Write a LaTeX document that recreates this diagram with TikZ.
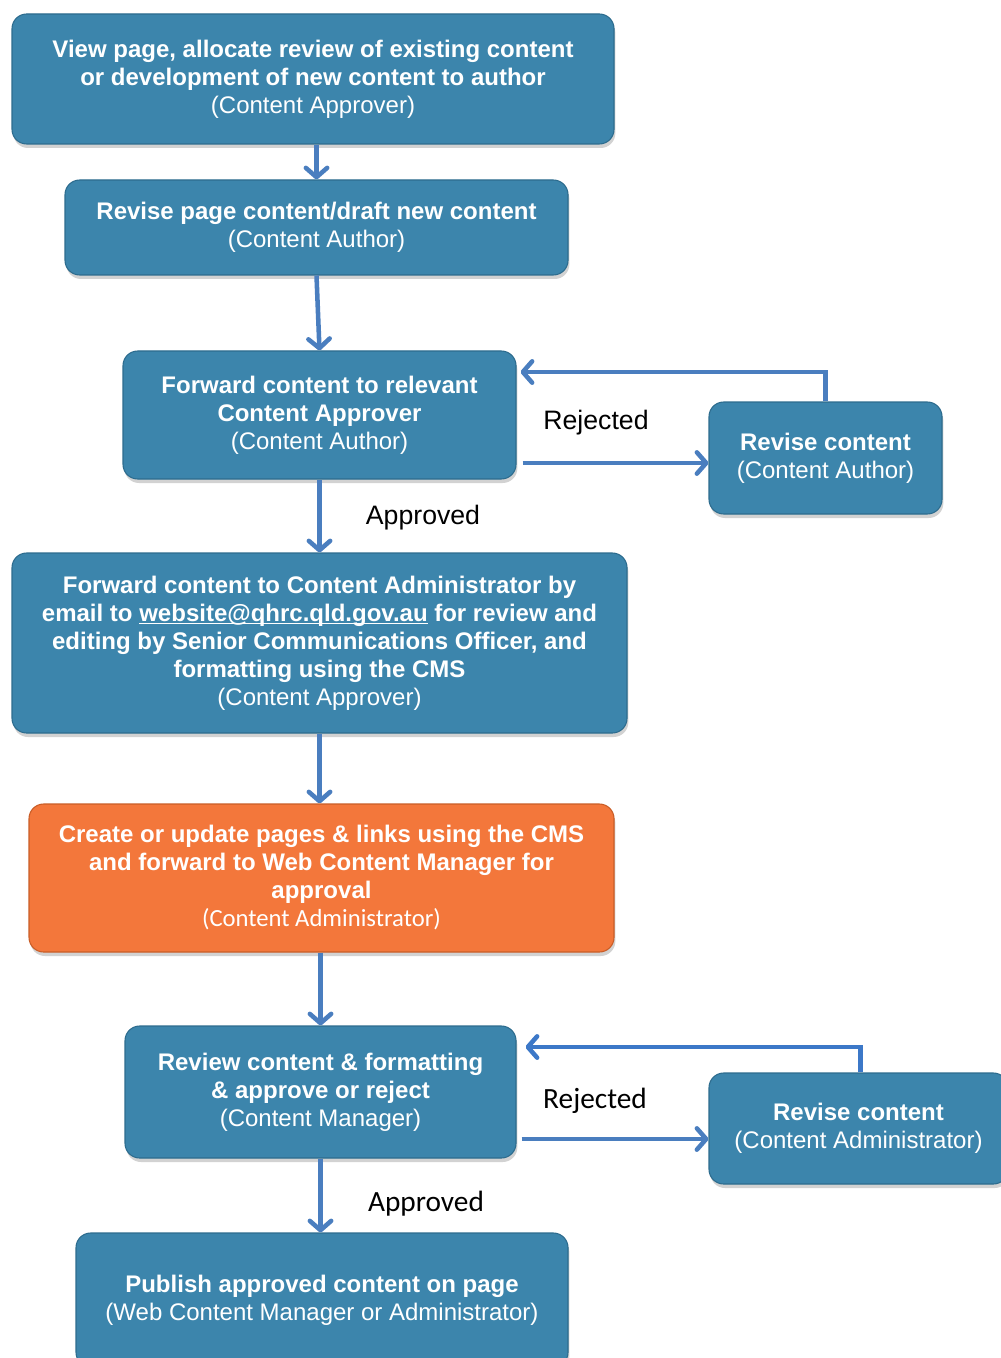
\documentclass[tikz,border=0pt]{standalone}
\usepackage{fontspec}
\setmainfont{Liberation Sans}
\newfontfamily\calib{Carlito}
\usetikzlibrary{arrows.meta,shadows,calc}
\definecolor{boxblue}{HTML}{3C85AC}
\definecolor{boxedge}{HTML}{2D6C8E}
\definecolor{boxorange}{HTML}{F3773B}
\definecolor{orangeedge}{HTML}{C95D27}
\definecolor{arrowblue}{HTML}{4A7EBF}
\definecolor{fbblue}{HTML}{3C78C8}
\newcommand\ulink[1]{\setbox0\hbox{#1}\rlap{\rule[-2.4pt]{\wd0}{1.1pt}}\box0\relax}
\tikzset{
  stepbox/.style={rectangle, rounded corners=11pt, fill=boxblue, draw=boxedge, line width=0.8pt,
    text=white, align=center, inner sep=0pt,
    font=\fontsize{18}{21}\selectfont,
    drop shadow={opacity=0.35, shadow xshift=1pt, shadow yshift=-3pt}},
  orangebox/.style={stepbox, fill=boxorange, draw=orangeedge},
  flow/.style={draw=arrowblue, line width=3.4pt,
    -{Straight Barb[length=7pt,width=16pt,line cap=round,line join=round]}},
  fbflow/.style={flow, draw=fbblue},
  lbl/.style={font=\fontsize{20}{24}\selectfont, text=black, inner sep=0pt},
  lblc/.style={font=\calib\fontsize{22}{26}\selectfont, text=black, inner sep=0pt}
}
\begin{document}
\begin{tikzpicture}[x=0.75pt,y=-0.75pt]
\useasboundingbox[fill=white] (0,0) rectangle (1000,1358);

\node[stepbox, minimum width=451.5pt, minimum height=97.5pt] (b1) at (313,79)
  {\textbf{View page, allocate review of existing content}\\
   \textbf{or development of new content to author}\\
   (Content Approver)};
\node[stepbox, minimum width=377.25pt, minimum height=71.25pt] (b2) at (316.5,227.5)
  {\textbf{Revise page content/draft new content}\\(Content Author)};
\node[stepbox, minimum width=294.75pt, minimum height=96pt] (b3) at (319.5,415)
  {\textbf{Forward content to relevant}\\\textbf{Content Approver}\\(Content Author)};
\node[stepbox, minimum width=174.75pt, minimum height=84pt] (r1) at (825.5,458)
  {\textbf{Revise content}\\(Content Author)};
\node[stepbox, minimum width=461.25pt, minimum height=135pt] (b4) at (319.5,643)
  {\textbf{Forward content to Content Administrator by}\\
   \textbf{email to \ulink{website@qhrc.qld.gov.au} for review and}\\
   \textbf{editing by Senior Communications Officer, and}\\
   \textbf{formatting using the CMS}\\
   (Content Approver)};
\node[orangebox, minimum width=438.75pt, minimum height=111pt] (b5) at (321.5,878)
  {\textbf{Create or update pages \& links using the CMS}\\
   \textbf{and forward to Web Content Manager for}\\
   \textbf{approval}\\
   {\calib\fontsize{18.5}{21}\selectfont(Content Administrator)}};
\node[stepbox, minimum width=293.25pt, minimum height=99pt] (b6) at (320.5,1092)
  {\textbf{Review content \& formatting}\\\textbf{\& approve or reject}\\(Content Manager)};
\node[stepbox, minimum width=224.25pt, minimum height=83.25pt] (r2) at (858.5,1128.5)
  {\textbf{Revise content}\\(Content Administrator)};
\node[stepbox, minimum width=369pt, minimum height=100.5pt] (b7) at (322,1300)
  {\textbf{Publish approved content on page}\\(Web Content Manager or Administrator)};

\node[lbl] (rej1) at (596,423) {Rejected};
\node[lbl] (app1) at (423,518) {Approved};
\node[lblc] (rej2) at (595,1101) {Rejected};
\node[lblc] (app2) at (426,1204) {Approved};

\draw[flow] (b1.south -| b2.north) -- (b2.north);
\draw[flow] (b2.south) -- (b3.north);
\draw[flow] (b3.south) -- (b4.north);
\draw[flow] (b4.south) -- (b4.south |- b5.north);
\draw[flow] (b5.south -| b6.north) -- (b6.north);
\draw[flow] (b6.south) -- (b6.south |- b7.north);

\coordinate (p1) at ([shift={(6,48)}]b3.east);
\draw[flow] (p1) -- (p1 -| r1.west);
\draw[flow] (r1.north) |- ([shift={(4,-43)}]b3.east);

\coordinate (p2) at ([shift={(5,47)}]b6.east);
\draw[flow] (p2) -- (p2 -| r2.west);
\draw[fbflow] ([xshift=1.5]r2.north) |- ([shift={(9,-45)}]b6.east);
\end{tikzpicture}
\end{document}
